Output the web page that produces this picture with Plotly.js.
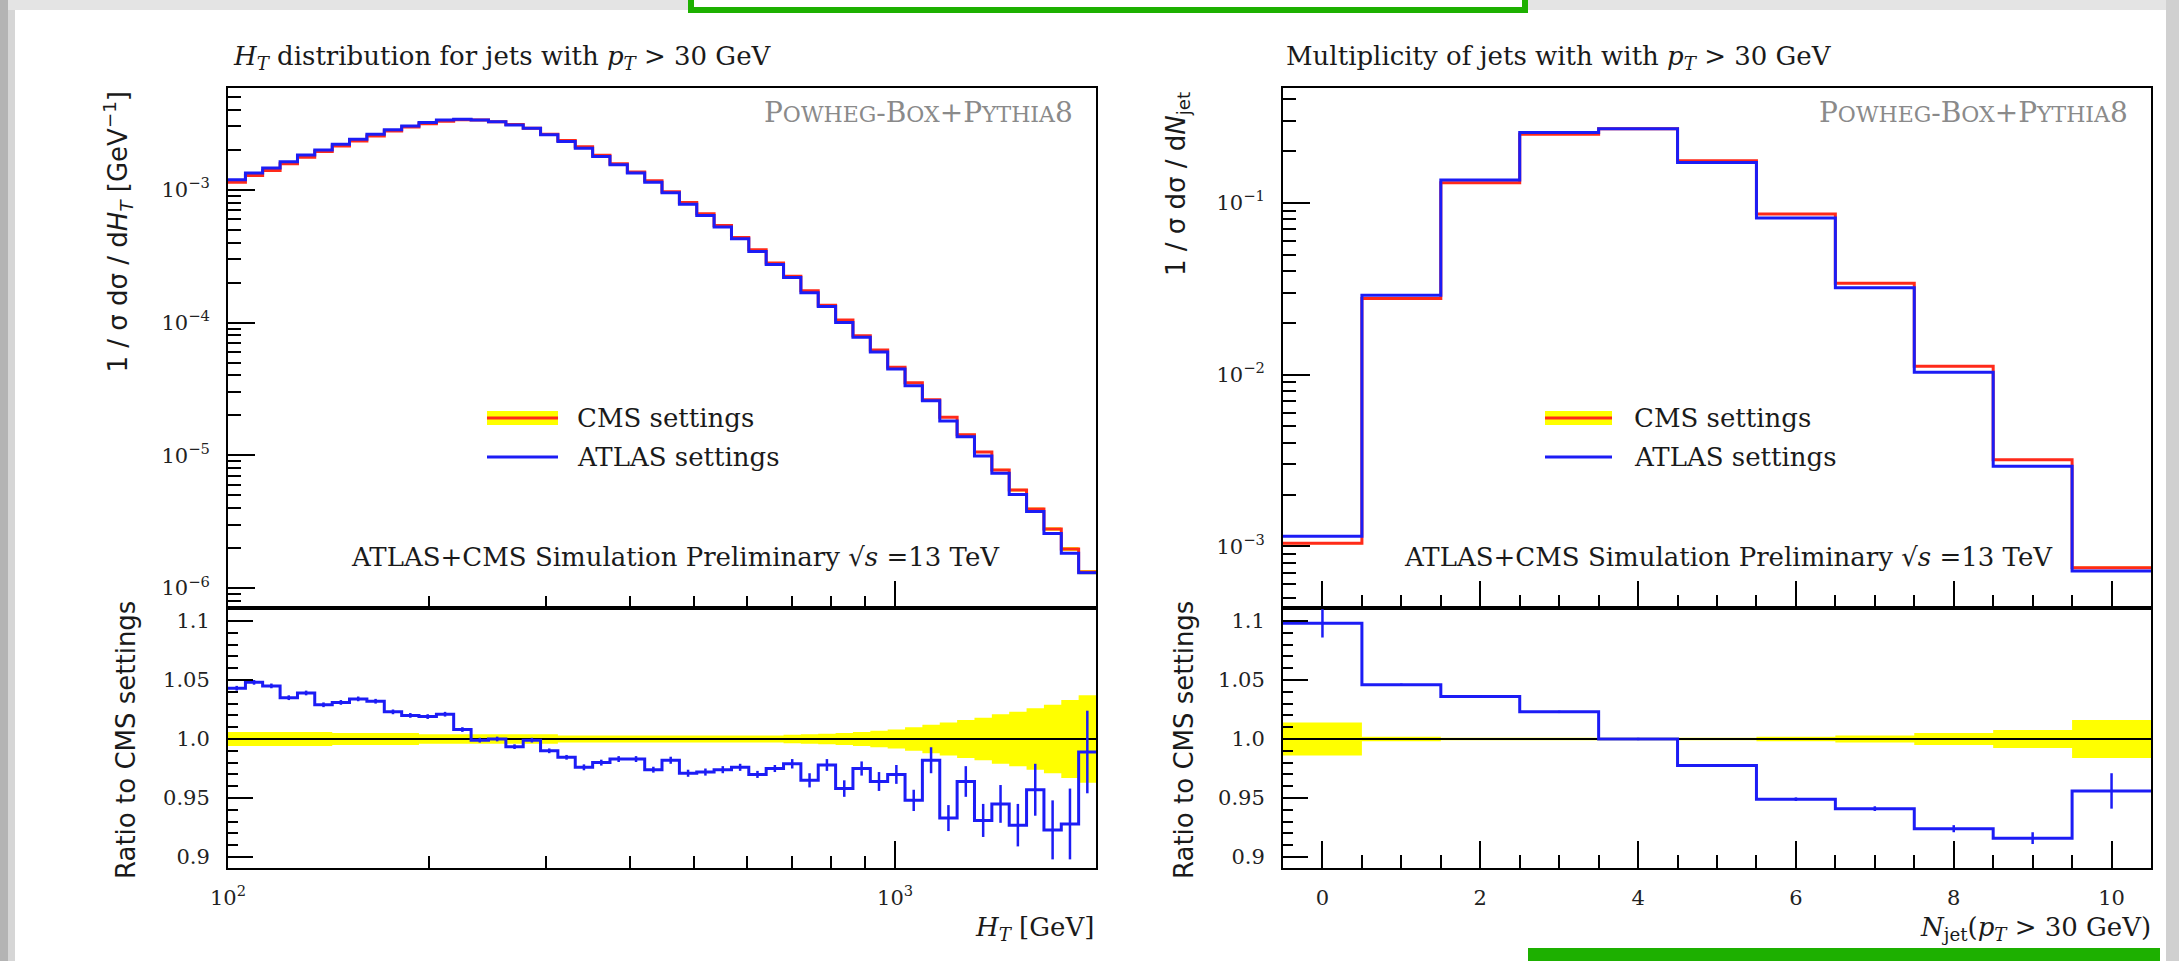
<!DOCTYPE html>
<html>
<head>
<meta charset="utf-8">
<script src="https://cdn.plot.ly/plotly-3.0.1.min.js"></script>
<style>
html,body{margin:0;padding:0;background:#ffffff;}
#chart{width:2179px;height:961px;}
</style>
</head>
<body>
<div id="chart"></div>
<script>
// ---------------- DATA ----------------
// H_T histogram: 50 bins, log-uniform between 100 and 2000 GeV
const htEdges = [100, 106.2, 112.7, 119.7, 127.1, 134.9, 143.3, 152.1, 161.5, 171.5,
  182.1, 193.3, 205.3, 217.9, 231.4, 245.7, 260.9, 277.0, 294.1, 312.2,
  331.5, 352.0, 373.7, 396.8, 421.3, 447.2, 474.9, 504.2, 535.3, 568.4,
  603.4, 640.7, 680.3, 722.2, 766.8, 814.2, 864.4, 917.8, 974.5, 1034.7,
  1098.5, 1166.4, 1238.4, 1314.9, 1396.1, 1482.3, 1573.8, 1671.0, 1774.2, 1883.7, 2000];
// CMS settings: 1/sigma dsigma/dHT [GeV^-1]
const htCms = [1.14e-3, 1.28e-3, 1.40e-3, 1.575e-3, 1.76e-3, 1.94e-3, 2.14e-3, 2.33e-3, 2.54e-3, 2.77e-3,
  2.97e-3, 3.15e-3, 3.29e-3, 3.37e-3, 3.36e-3, 3.26e-3, 3.10e-3, 2.91e-3, 2.62e-3, 2.35e-3,
  2.11e-3, 1.82e-3, 1.57e-3, 1.36e-3, 1.17e-3, 9.68e-4, 8.02e-4, 6.59e-4, 5.39e-4, 4.38e-4,
  3.54e-4, 2.81e-4, 2.23e-4, 1.74e-4, 1.35e-4, 1.045e-4, 7.95e-5, 6.22e-5, 4.61e-5, 3.52e-5,
  2.62e-5, 1.94e-5, 1.43e-5, 1.06e-5, 7.77e-6, 5.47e-6, 3.95e-6, 2.79e-6, 1.97e-6, 1.32e-6];
// relative statistical uncertainty of CMS settings (yellow band)
const htCmsErr = [0.006, 0.006, 0.006, 0.006, 0.006, 0.006, 0.005, 0.005, 0.005, 0.005,
  0.005, 0.004, 0.004, 0.004, 0.004, 0.004, 0.004, 0.004, 0.004, 0.003,
  0.003, 0.003, 0.003, 0.003, 0.003, 0.003, 0.003, 0.003, 0.003, 0.003,
  0.003, 0.003, 0.0035, 0.004, 0.0045, 0.005, 0.006, 0.007, 0.008, 0.010,
  0.012, 0.014, 0.016, 0.018, 0.021, 0.023, 0.026, 0.029, 0.033, 0.037];
// ATLAS / CMS ratio
const htRatio = [1.043, 1.048, 1.045, 1.035, 1.039, 1.029, 1.031, 1.034, 1.032, 1.023,
  1.020, 1.019, 1.021, 1.008, 0.999, 1.000, 0.9935, 0.999, 0.990, 0.9845,
  0.976, 0.980, 0.983, 0.983, 0.974, 0.982, 0.971, 0.972, 0.974, 0.976,
  0.970, 0.975, 0.979, 0.965, 0.978, 0.958, 0.975, 0.964, 0.970, 0.948,
  0.982, 0.933, 0.964, 0.931, 0.945, 0.927, 0.957, 0.923, 0.928, 0.989];
const htRatioErr = [0.002, 0.002, 0.002, 0.002, 0.002, 0.002, 0.002, 0.002, 0.002, 0.002,
  0.002, 0.002, 0.002, 0.002, 0.002, 0.002, 0.002, 0.002, 0.002, 0.002,
  0.0025, 0.0025, 0.0025, 0.0025, 0.0025, 0.003, 0.003, 0.003, 0.003, 0.003,
  0.003, 0.003, 0.004, 0.006, 0.005, 0.007, 0.006, 0.008, 0.008, 0.009,
  0.011, 0.011, 0.013, 0.014, 0.016, 0.018, 0.022, 0.025, 0.030, 0.035];

// Jet multiplicity: bins 0..10
const njEdges = [-0.5, 0.5, 1.5, 2.5, 3.5, 4.5, 5.5, 6.5, 7.5, 8.5, 9.5, 10.5];
const njBins = [0, 1, 2, 3, 4, 5, 6, 7, 8, 9, 10];
const njCms = [1.04e-3, 0.0277, 0.131, 0.251, 0.270, 0.176, 0.0860, 0.0340, 0.01117, 3.19e-3, 7.5e-4];
const njCmsErr = [0.014, 0.002, 0.001, 0.001, 0.001, 0.001, 0.002, 0.003, 0.005, 0.0077, 0.016];
const njRatio = [1.098, 1.046, 1.036, 1.023, 1.000, 0.9776, 0.949, 0.941, 0.924, 0.916, 0.956];
const njRatioErr = [0.012, 0.001, 0.001, 0.001, 0.001, 0.001, 0.0015, 0.002, 0.003, 0.005, 0.015];

// tick labels
const htTicks = [100, 1000];
const htTickText = ['10<sup>2</sup>', '10<sup>3</sup>'];
const htMinorTicks = [200, 300, 400, 500, 600, 700, 800, 900];
const htYTicks = [1e-6, 1e-5, 1e-4, 1e-3];
const htYTickText = ['10<sup>\u22126</sup>', '10<sup>\u22125</sup>', '10<sup>\u22124</sup>', '10<sup>\u22123</sup>'];
const njYTicks = [1e-3, 1e-2, 1e-1];
const njYTickText = ['10<sup>\u22123</sup>', '10<sup>\u22122</sup>', '10<sup>\u22121</sup>'];
const njXTicks = [0, 2, 4, 6, 8, 10];
const njXTickText = ['0', '2', '4', '6', '8', '10'];
const ratioTicks = [0.9, 0.95, 1.0, 1.05, 1.1];
const ratioTickText = ['0.9', '0.95', '1.0', '1.05', '1.1'];

// ---------------- STYLE ----------------
const W = 2179, H = 961;
const px = v => v / W;
const py = v => 1 - v / H;
const RED = '#ff2a1a', BLUE = '#1c1cf5', YEL = '#ffff00';
const SERIF = 'DejaVu Serif, Liberation Serif, serif';
const SANS = 'DejaVu Sans, Liberation Sans, sans-serif';

function stepY(v) { return v.concat([v[v.length - 1]]); }
function minorLog(decs) {
  const out = [];
  decs.forEach(d => { for (let k = 2; k <= 9; k++) out.push(k * d); });
  return out;
}

const htCenters = htEdges.slice(0, -1).map((e, i) => Math.sqrt(e * htEdges[i + 1]));
const htAtlas = htCms.map((v, i) => v * htRatio[i]);
const njAtlas = njCms.map((v, i) => v * njRatio[i]);

function panelTraces(edges, centers, cms, cmsErr, atlas, ratio, ratioErr, xa, ya, xr, yr) {
  const lo = cms.map((v, i) => v * (1 - cmsErr[i]));
  const hi = cms.map((v, i) => v * (1 + cmsErr[i]));
  const rlo = cmsErr.map(e => 1 - e);
  const rhi = cmsErr.map(e => 1 + e);
  const base = {type: 'scatter', mode: 'lines', hoverinfo: 'skip', showlegend: false};
  return [
    Object.assign({}, base, {x: edges, y: stepY(lo), xaxis: xa, yaxis: ya, line: {shape: 'hv', width: 0, color: YEL}}),
    Object.assign({}, base, {x: edges, y: stepY(hi), xaxis: xa, yaxis: ya, line: {shape: 'hv', width: 0, color: YEL}, fill: 'tonexty', fillcolor: YEL}),
    Object.assign({}, base, {x: edges, y: stepY(cms), xaxis: xa, yaxis: ya, line: {shape: 'hv', width: 3, color: RED}, name: 'CMS settings'}),
    Object.assign({}, base, {x: edges, y: stepY(atlas), xaxis: xa, yaxis: ya, line: {shape: 'hv', width: 3, color: BLUE}, name: 'ATLAS settings'}),
    Object.assign({}, base, {x: edges, y: stepY(rlo), xaxis: xr, yaxis: yr, line: {shape: 'hv', width: 0, color: YEL}}),
    Object.assign({}, base, {x: edges, y: stepY(rhi), xaxis: xr, yaxis: yr, line: {shape: 'hv', width: 0, color: YEL}, fill: 'tonexty', fillcolor: YEL}),
    Object.assign({}, base, {x: [edges[0], edges[edges.length - 1]], y: [1, 1], xaxis: xr, yaxis: yr, line: {width: 2, color: '#000000'}}),
    Object.assign({}, base, {x: edges, y: stepY(ratio), xaxis: xr, yaxis: yr, line: {shape: 'hv', width: 3, color: BLUE}}),
    {type: 'scatter', mode: 'markers', x: centers, y: ratio, xaxis: xr, yaxis: yr, hoverinfo: 'skip', showlegend: false,
     marker: {size: 1, color: BLUE, opacity: 0},
     error_y: {type: 'data', array: ratioErr, visible: true, color: BLUE, thickness: 2.5, width: 0}}
  ];
}

const data = [].concat(
  panelTraces(htEdges, htCenters, htCms, htCmsErr, htAtlas, htRatio, htRatioErr, 'x', 'y', 'x3', 'y3'),
  panelTraces(njEdges, njBins, njCms, njCmsErr, njAtlas, njRatio, njRatioErr, 'x2', 'y2', 'x4', 'y4')
);

// ---------------- LAYOUT ----------------
const leftDom = [px(228), px(1096)];
const rightDom = [px(1283), px(2151)];
const topDom = [py(608), py(88)];
const ratDom = [py(868), py(608)];
const tickFont = {family: SERIF, size: 21, color: '#222222'};

const axBase = {showline: true, linecolor: '#000000', linewidth: 2, mirror: true,
  showgrid: false, zeroline: false, ticks: 'inside', tickcolor: '#000000', tickwidth: 2,
  tickfont: tickFont, fixedrange: true};

const layout = {
  width: W, height: H,
  margin: {l: 0, r: 0, t: 0, b: 0},
  font: {family: SERIF, size: 21, color: '#1a1a1a'},
  paper_bgcolor: '#ffffff', plot_bgcolor: 'rgba(0,0,0,0)',
  showlegend: false,
  xaxis: Object.assign({}, axBase, {type: 'log', range: [2, Math.log10(2000)], domain: leftDom, anchor: 'y',
    tickmode: 'array', tickvals: htTicks, ticktext: htTickText, showticklabels: false, ticklen: 27,
    minor: {tickmode: 'array', tickvals: htMinorTicks, ticks: 'inside', ticklen: 12, tickcolor: '#000000', tickwidth: 2, showgrid: false}}),
  yaxis: Object.assign({}, axBase, {type: 'log', range: [-6.15, -2.233], domain: topDom, anchor: 'x',
    tickmode: 'array', tickvals: htYTicks, ticktext: htYTickText, ticklen: 27, ticklabelstandoff: 12,
    minor: {tickmode: 'array', tickvals: minorLog([1e-7, 1e-6, 1e-5, 1e-4, 1e-3]), ticks: 'inside', ticklen: 13, tickcolor: '#000000', tickwidth: 2, showgrid: false}}),
  xaxis3: Object.assign({}, axBase, {type: 'log', range: [2, Math.log10(2000)], domain: leftDom, anchor: 'y3',
    tickmode: 'array', tickvals: htTicks, ticktext: htTickText, ticklen: 27, ticklabelstandoff: 10,
    minor: {tickmode: 'array', tickvals: htMinorTicks, ticks: 'inside', ticklen: 12, tickcolor: '#000000', tickwidth: 2, showgrid: false}}),
  yaxis3: Object.assign({}, axBase, {range: [0.8907, 1.111], domain: ratDom, anchor: 'x3',
    tickmode: 'array', tickvals: ratioTicks, ticktext: ratioTickText, ticklen: 25, ticklabelstandoff: 12,
    minor: {tickmode: 'linear', tick0: 0.9, dtick: 0.01, ticks: 'inside', ticklen: 10, tickcolor: '#000000', tickwidth: 2, showgrid: false}}),
  xaxis2: Object.assign({}, axBase, {range: [-0.5, 10.5], domain: rightDom, anchor: 'y2',
    tickmode: 'array', tickvals: njXTicks, ticktext: njXTickText, showticklabels: false, ticklen: 27,
    minor: {tickmode: 'linear', tick0: 0, dtick: 0.5, ticks: 'inside', ticklen: 13, tickcolor: '#000000', tickwidth: 2, showgrid: false}}),
  yaxis2: Object.assign({}, axBase, {type: 'log', range: [-3.36, -0.331], domain: topDom, anchor: 'x2',
    tickmode: 'array', tickvals: njYTicks, ticktext: njYTickText, ticklen: 27, ticklabelstandoff: 12,
    minor: {tickmode: 'array', tickvals: minorLog([1e-4, 1e-3, 1e-2, 1e-1]), ticks: 'inside', ticklen: 13, tickcolor: '#000000', tickwidth: 2, showgrid: false}}),
  xaxis4: Object.assign({}, axBase, {range: [-0.5, 10.5], domain: rightDom, anchor: 'y4',
    tickmode: 'array', tickvals: njXTicks, ticktext: njXTickText, ticklen: 27, ticklabelstandoff: 10,
    minor: {tickmode: 'linear', tick0: 0, dtick: 0.5, ticks: 'inside', ticklen: 13, tickcolor: '#000000', tickwidth: 2, showgrid: false}}),
  yaxis4: Object.assign({}, axBase, {range: [0.8907, 1.111], domain: ratDom, anchor: 'x4',
    tickmode: 'array', tickvals: ratioTicks, ticktext: ratioTickText, ticklen: 25, ticklabelstandoff: 12,
    minor: {tickmode: 'linear', tick0: 0.9, dtick: 0.01, ticks: 'inside', ticklen: 10, tickcolor: '#000000', tickwidth: 2, showgrid: false}}),
  shapes: [],
  annotations: []
};

// decorative frame of the slide
layout.shapes.push(
  {type: 'rect', xref: 'paper', yref: 'paper', x0: 0, x1: 1, y0: py(10), y1: 1, fillcolor: '#e4e4e4', line: {width: 0}, layer: 'below'},
  {type: 'rect', xref: 'paper', yref: 'paper', x0: 0, x1: px(8), y0: 0, y1: 1, fillcolor: '#b4b4b4', line: {width: 0}, layer: 'below'},
  {type: 'rect', xref: 'paper', yref: 'paper', x0: px(8), x1: px(15), y0: 0, y1: py(10), fillcolor: '#d6d6d6', line: {width: 0}, layer: 'below'},
  {type: 'rect', xref: 'paper', yref: 'paper', x0: px(2166), x1: 1, y0: 0, y1: 1, fillcolor: '#d0d0d0', line: {width: 0}, layer: 'below'},
  {type: 'rect', xref: 'paper', yref: 'paper', x0: px(688), x1: px(1528), y0: py(13), y1: 1, fillcolor: '#1db000', line: {width: 0}, layer: 'above'},
  {type: 'rect', xref: 'paper', yref: 'paper', x0: px(694), x1: px(1522), y0: py(7), y1: 1, fillcolor: '#ffffff', line: {width: 0}, layer: 'above'},
  {type: 'rect', xref: 'paper', yref: 'paper', x0: px(1528), x1: px(2160), y0: 0, y1: py(948), fillcolor: '#1db000', line: {width: 0}, layer: 'above'}
);

// legend samples
function legendSamples(x0, x1) {
  layout.shapes.push(
    {type: 'rect', xref: 'paper', yref: 'paper', x0: px(x0), x1: px(x1), y0: py(425), y1: py(411), fillcolor: YEL, line: {width: 0}},
    {type: 'line', xref: 'paper', yref: 'paper', x0: px(x0), x1: px(x1), y0: py(418), y1: py(418), line: {color: RED, width: 3}},
    {type: 'line', xref: 'paper', yref: 'paper', x0: px(x0), x1: px(x1), y0: py(457), y1: py(457), line: {color: BLUE, width: 3}}
  );
}
legendSamples(487, 558);
legendSamples(1545, 1612);

function ann(text, x, y, opts) {
  layout.annotations.push(Object.assign({text: text, xref: 'paper', yref: 'paper', x: px(x), y: py(y),
    showarrow: false, xanchor: 'left', yanchor: 'middle',
    font: {family: SERIF, size: 26, color: '#1a1a1a'}}, opts || {}));
}

const powheg = 'P<span style="font-size:22px">OWHEG</span>-B<span style="font-size:22px">OX</span>+P<span style="font-size:22px">YTHIA</span>8';
const sim = 'ATLAS+CMS Simulation Preliminary \u221A<i>s</i> =13 TeV';

// panel titles
ann('<i>H</i><sub><i>T</i></sub> distribution for jets with <i>p</i><sub><i>T</i></sub> > 30 GeV', 231, 57);
ann('Multiplicity of jets with with <i>p</i><sub><i>T</i></sub> > 30 GeV', 1284, 57);
// generator labels
ann(powheg, 1075, 113, {xanchor: 'right', font: {family: SERIF, size: 28, color: '#8a8a8a'}});
ann(powheg, 2130, 113, {xanchor: 'right', font: {family: SERIF, size: 28, color: '#8a8a8a'}});
// simulation labels
ann(sim, 1002, 557, {xanchor: 'right'});
ann(sim, 2055, 557, {xanchor: 'right'});
// legend text
ann('CMS settings', 575, 418);
ann('ATLAS settings', 575, 457);
ann('CMS settings', 1632, 418);
ann('ATLAS settings', 1632, 457);
// x-axis titles
ann('<i>H</i><sub><i>T</i></sub> [GeV]', 1096, 928, {xanchor: 'right'});
ann('<i>N</i><sub>jet</sub>(<i>p</i><sub><i>T</i></sub> > 30 GeV)', 2153, 928, {xanchor: 'right'});
// y-axis titles
const yTitleFont = {family: SANS, size: 26, color: '#1a1a1a'};
ann('1 / \u03C3 d\u03C3 / d<i>H</i><sub><i>T</i></sub> [GeV<sup>\u22121</sup>]', 118, 90, {xanchor: 'center', yanchor: 'top', textangle: -90, font: yTitleFont});
ann('1 / \u03C3 d\u03C3 / d<i>N</i><sub>jet</sub>', 1177, 90, {xanchor: 'center', yanchor: 'top', textangle: -90, font: yTitleFont});
ann('Ratio to CMS settings', 126, 740, {xanchor: 'center', yanchor: 'middle', textangle: -90, font: yTitleFont});
ann('Ratio to CMS settings', 1184, 740, {xanchor: 'center', yanchor: 'middle', textangle: -90, font: yTitleFont});

Plotly.newPlot('chart', data, layout, {displayModeBar: false}).then(function (gd) {
  // give every drawn text an explicit font-size attribute as well as its style
  gd.querySelectorAll('svg text, svg tspan').forEach(function (t) {
    const fs = t.style.fontSize || window.getComputedStyle(t).fontSize;
    if (fs) t.setAttribute('font-size', fs);
  });
});
</script>
</body>
</html>
